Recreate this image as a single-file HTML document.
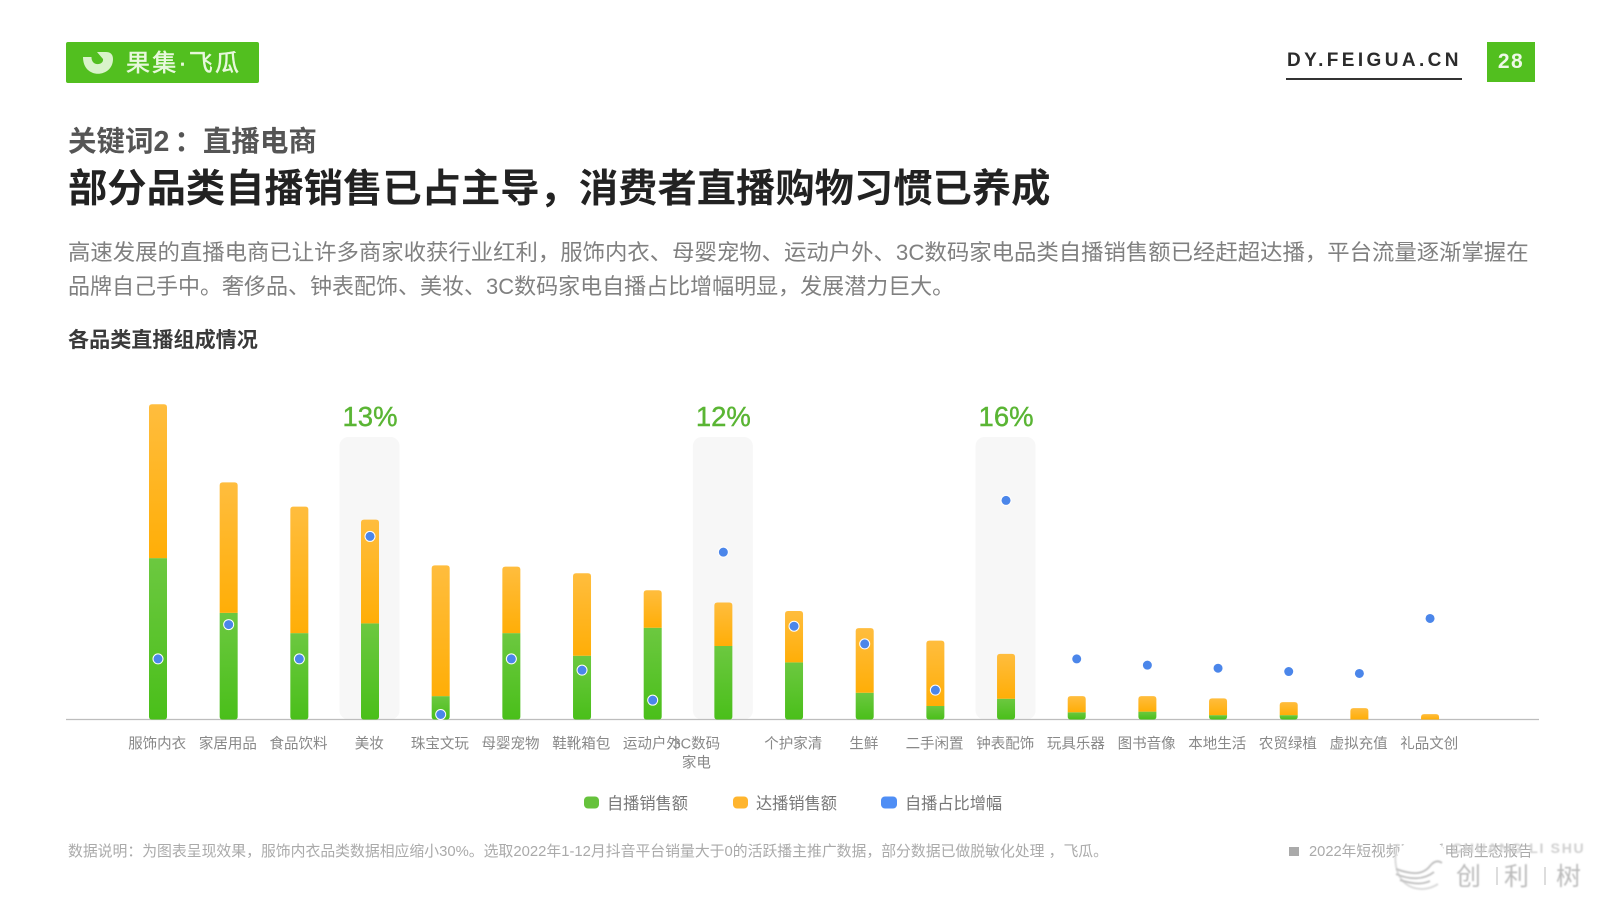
<!DOCTYPE html>
<html lang="zh-CN">
<head>
<meta charset="utf-8">
<title>各品类直播组成情况</title>
<style>
html,body{margin:0;padding:0;background:#fff;}
#page{position:relative;width:1600px;height:900px;overflow:hidden;background:#fff;font-family:"Liberation Sans","Noto Sans CJK SC",sans-serif;}
.abs{position:absolute;white-space:nowrap;}
svg text{font-family:"Liberation Sans","Noto Sans CJK SC",sans-serif;}
</style>
</head>
<body>
<div id="page">
  <svg class="abs" style="left:66px;top:42px" width="194" height="41">
    <rect x="0" y="0" width="193" height="41" rx="2" fill="#52bf1f"/>
    <path d="M17 15 C17 38 47 36 47 17 C47 12 44 10 40 10 L31 10 L37 17 C38 22 30 24 27 20 C25.5 18 25.5 16 25.5 15 Z" fill="#d9f3ca"/>
    <text x="60" y="29" font-size="24" fill="#e8f8dd" stroke="#e8f8dd" stroke-width="0.5" textLength="113" lengthAdjust="spacing">果集·飞瓜</text>
  </svg>

  <div class="abs" style="left:1287px;top:50px;font-size:19px;line-height:22px;font-weight:bold;letter-spacing:3.4px;color:#2b2b2b;">DY.FEIGUA.CN</div>
  <div class="abs" style="left:1286px;top:78px;width:176px;height:2px;background:#333;"></div>
  <div class="abs" style="left:1487px;top:42px;width:48px;height:40px;background:#52bf1f;color:#eef9e6;font-size:21px;font-weight:bold;letter-spacing:1.5px;line-height:40px;text-align:center;">28</div>

  <div class="abs" style="left:68px;top:122px;font-size:28.5px;line-height:40px;font-weight:bold;color:#555;">关键词<span style="letter-spacing:5px;">2</span>&#xFF1A;直播电商</div>
  <div class="abs" style="left:68px;top:161px;font-size:39.3px;line-height:56px;font-weight:bold;color:#222;">部分品类自播销售已占主导&#xFF0C;消费者直播购物习惯已养成</div>
  <div class="abs" style="left:68px;top:236px;font-size:22.38px;line-height:34px;color:#808080;">高速发展的直播电商已让许多商家收获行业红利&#xFF0C;服饰内衣、母婴宠物、运动户外、3C数码家电品类自播销售额已经赶超达播&#xFF0C;平台流量逐渐掌握在</div>
  <div class="abs" style="left:68px;top:270px;font-size:22px;line-height:34px;color:#808080;">品牌自己手中。奢侈品、钟表配饰、美妆、3C数码家电自播占比增幅明显&#xFF0C;发展潜力巨大。</div>
  <div class="abs" style="left:68px;top:326px;font-size:21.1px;line-height:30px;font-weight:bold;color:#3a3a3a;">各品类直播组成情况</div>

  <svg id="chart" class="abs" style="left:0;top:0" width="1600" height="900">
    <defs>
      <linearGradient id="gradOrange" x1="0" y1="0" x2="0" y2="1">
        <stop offset="0" stop-color="#ffbd3e"/><stop offset="1" stop-color="#ffae07"/>
      </linearGradient>
      <linearGradient id="gradGreen" x1="0" y1="0" x2="0" y2="1">
        <stop offset="0" stop-color="#6cc840"/><stop offset="1" stop-color="#4abf1a"/>
      </linearGradient>
    </defs>
    <g id="highlights"></g>
    <line x1="66" y1="719.5" x2="1539" y2="719.5" stroke="#bdbdbd" stroke-width="1.2"/>
    <g id="bars"></g>
    <g id="dots"></g>
    <g id="labels"></g>
  </svg>

  <svg class="abs" style="left:0;top:780px" width="1100" height="50">
    <g>
      <rect x="584" y="16.5" width="15" height="12" rx="4" fill="#66c23c"/>
      <text x="607" y="29" font-size="16.2" fill="#777">自播销售额</text>
    </g>
    <g>
      <rect x="733" y="16.5" width="15" height="12" rx="4" fill="#ffb52e"/>
      <text x="756" y="29" font-size="16.2" fill="#777">达播销售额</text>
    </g>
    <g>
      <rect x="881" y="16.5" width="16" height="12" rx="4" fill="#4f8ef5"/>
      <text x="905" y="29" font-size="16.2" fill="#777">自播占比增幅</text>
    </g>
  </svg>

  <div class="abs" style="left:68px;top:841px;font-size:14.85px;line-height:22px;color:#aaa;">数据说明&#xFF1A;为图表呈现效果&#xFF0C;服饰内衣品类数据相应缩小30%。选取2022年1-12月抖音平台销量大于0的活跃播主推广数据&#xFF0C;部分数据已做脱敏化处理 &#xFF0C;飞瓜。</div>
  <div class="abs" style="left:1289px;top:847px;width:10px;height:9px;background:#aaa;"></div>
  <div class="abs" style="left:1309px;top:841px;font-size:14.7px;line-height:22px;color:#aaa;">2022年短视频及直播电商生态报告</div>

  <svg class="abs" style="left:1380px;top:830px" width="220" height="70">
    <defs><filter id="wmBlur"><feGaussianBlur stdDeviation="0.7"/></filter></defs>
    <ellipse cx="42" cy="34" rx="26" ry="27" fill="#fff"/>
    <g fill="none" stroke="#c4c4c4" stroke-width="2" filter="url(#wmBlur)">
      <path d="M18 14 C14 24 14 40 22 50 C30 60 46 62 58 54" stroke="#dcdcdc"/>
      <path d="M16 39 C30 44 42 46 50 36 C54 31 58 30 62 33"/>
      <path d="M16 44 C30 50 44 50 54 42"/>
      <path d="M20 50 C32 54 42 55 50 51"/>
    </g>
    <text x="72" y="23" font-size="14" font-weight="bold" letter-spacing="1.7" fill="#d0d0d0" filter="url(#wmBlur)">CHUANG LI SHU</text>
    <g font-size="25" fill="#bbb" filter="url(#wmBlur)">
      <text x="76" y="55">创</text>
      <text x="124" y="55">利</text>
      <text x="176" y="55">树</text>
    </g>
    <g fill="#ddd">
      <rect x="116" y="37" width="2" height="18"/>
      <rect x="164" y="37" width="2" height="18"/>
    </g>
  </svg>
</div>

<script>
const categories = ["服饰内衣","家居用品","食品饮料","美妆","珠宝文玩","母婴宠物","鞋靴箱包","运动户外","3C数码|家电","个护家清","生鲜","二手闲置","钟表配饰","玩具乐器","图书音像","本地生活","农贸绿植","虚拟充值","礼品文创"];
const selfSales = [51.2,33.8,27.4,30.5,7.4,27.4,20.2,29.1,23.3,18.1,8.5,4.3,6.6,2.3,2.5,1.4,1.4,0,0];
const influencerSales = [48.8,41.4,40.1,32.9,41.5,21.1,26.2,11.9,13.8,16.3,20.5,20.7,14.2,5.1,4.9,5.3,4.1,3.6,1.7];
const selfShareGrowth = [4.36,6.83,4.36,13.17,0.36,4.36,3.55,1.39,12.04,6.71,5.44,2.11,15.76,4.36,3.91,3.69,3.45,3.31,7.27];
const highlightIndexes = [3,8,12];
const highlightLabels = ["13%","12%","16%"];

const NS = "http://www.w3.org/2000/svg";
const axisY = 719.5;
function xPos(i){ return 158 + i * 70.67; }
function salesY(v){ return axisY - v * 3.153; }
function growthY(v){ return axisY - v * 13.9; }
function mk(tag, attrs){
  const el = document.createElementNS(NS, tag);
  for (const k in attrs) el.setAttribute(k, attrs[k]);
  return el;
}
function roundTop(x, y0, y1, w, r){
  const rr = Math.min(r, (y1 - y0) / 1);
  return "M"+x+" "+y1+"V"+(y0+rr)+"Q"+x+" "+y0+" "+(x+rr)+" "+y0+"H"+(x+w-rr)+"Q"+(x+w)+" "+y0+" "+(x+w)+" "+(y0+rr)+"V"+y1+"Z";
}
function roundBottom(x, y0, y1, w, r){
  const rr = Math.min(r, (y1 - y0) / 1);
  return "M"+x+" "+y0+"V"+(y1-rr)+"Q"+x+" "+y1+" "+(x+rr)+" "+y1+"H"+(x+w-rr)+"Q"+(x+w)+" "+y1+" "+(x+w)+" "+(y1-rr)+"V"+y0+"Z";
}

const hlGroup = document.getElementById("highlights");
highlightIndexes.forEach(function(idx, n){
  const cx = xPos(idx);
  const box = mk("rect", {x: cx - 30.5, y: 437, width: 60, height: axisY - 437, rx: 9, fill: "#f7f7f7"});
  
  
  hlGroup.appendChild(box);
  const t = mk("text", {x: cx, y: 426, "text-anchor": "middle", "font-size": 28, fill: "#5ab534", stroke: "#5ab534", "stroke-width": 0.4, textLength: 55, lengthAdjust: "spacingAndGlyphs"});
  t.textContent = highlightLabels[n];
  
  
  hlGroup.appendChild(t);
});

const barGroup = document.getElementById("bars");
const dotGroup = document.getElementById("dots");
const labelGroup = document.getElementById("labels");
const barWidth = 18;
categories.forEach(function(name, i){
  const left = xPos(i) - barWidth / 2;
  const ySplit = salesY(selfSales[i]);
  const yTop = salesY(selfSales[i] + influencerSales[i]);
  if (selfSales[i] > 0) {
    const g = mk("path", {d: roundBottom(left, ySplit, axisY, barWidth, 3), fill: "url(#gradGreen)"});
    
    
    barGroup.appendChild(g);
  }
  const o = mk("path", {d: roundTop(left, yTop, ySplit, barWidth, 3), fill: "url(#gradOrange)"});
  
  
  barGroup.appendChild(o);

  const dot = mk("circle", {cx: xPos(i), cy: growthY(selfShareGrowth[i]), r: 5, fill: "#4b86ea", stroke: "#fff", "stroke-width": 1});
  
  
  dotGroup.appendChild(dot);

  const lines = name.split("|");
  lines.forEach(function(line, li){
    const shift = lines.length > 1 ? -27 : -0.8;
    const t = mk("text", {x: xPos(i) + shift, y: 748.5 + li * 19, "text-anchor": "middle", "font-size": 14.5, fill: "#888"});
    t.textContent = line;
    
    
    labelGroup.appendChild(t);
  });
});
</script>
</body>
</html>
